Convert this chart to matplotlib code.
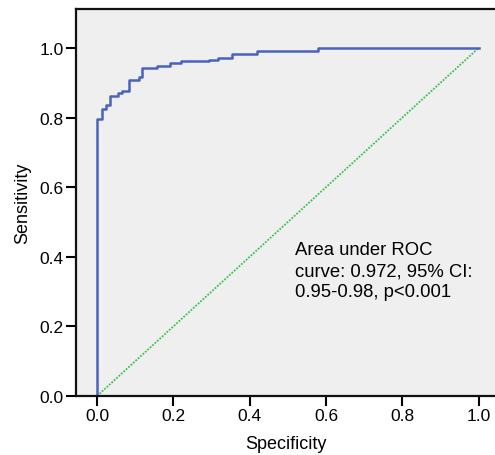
import matplotlib.pyplot as plt

# ROC curve steps (x = 1 - specificity)
fpr = [0.0, 0.0, 0.013, 0.013, 0.024, 0.024, 0.034, 0.034, 0.054, 0.054,
       0.066, 0.066, 0.084, 0.084, 0.110, 0.110, 0.117, 0.117, 0.157, 0.157,
       0.191, 0.191, 0.220, 0.220, 0.293, 0.293, 0.316, 0.316, 0.353, 0.353,
       0.418, 0.418, 0.579, 0.579, 1.0]
tpr = [0.0, 0.796, 0.796, 0.825, 0.825, 0.836, 0.836, 0.861, 0.861, 0.871,
       0.871, 0.877, 0.877, 0.909, 0.909, 0.916, 0.916, 0.942, 0.942, 0.947,
       0.947, 0.957, 0.957, 0.963, 0.963, 0.966, 0.966, 0.972, 0.972, 0.983,
       0.983, 0.991, 0.991, 1.0, 1.0]
ref_x = [0.0, 1.0]
ref_y = [0.0, 1.0]
ticks = [0.0, 0.2, 0.4, 0.6, 0.8, 1.0]
note = "Area under ROC\ncurve: 0.972, 95% CI:\n0.95-0.98, p<0.001"

plt.rcParams['font.family'] = ['Liberation Sans', 'DejaVu Sans']

fig = plt.figure(figsize=(4.95, 4.56), dpi=100)
ax = fig.add_axes([0.1545, 0.1294, 0.8455, 0.8486])
ax.set_facecolor('#efefef')

ax.plot(ref_x, ref_y, color='#3dc24a', lw=1.3, linestyle=(0, (1, 0.8)))
ax.plot(fpr, tpr, color='#4a62be', lw=1.8)

ax.set_xlim(-0.054, 1.043)
ax.set_ylim(0, 1.112)
ax.set_xticks(ticks)
ax.set_yticks(ticks)
ax.set_xticklabels([f"{t:.1f}" for t in ticks])
ax.set_yticklabels([f"{t:.1f}" for t in ticks])
ax.tick_params(direction='out', length=7, width=1.5, labelsize=12.5, pad=2)

for side in ['left', 'bottom', 'top']:
    ax.spines[side].set_linewidth(1.6)
    ax.spines[side].set_color('#111111')
ax.spines['right'].set_visible(False)

ax.set_xlabel("Specificity", fontsize=13, labelpad=8)
ax.set_ylabel("Sensitivity", fontsize=13, labelpad=6)

ax.text(0.519, 0.445, note, fontsize=13.3, va='top', ha='left', linespacing=1.3)

fig.savefig("out.png", dpi=100)
